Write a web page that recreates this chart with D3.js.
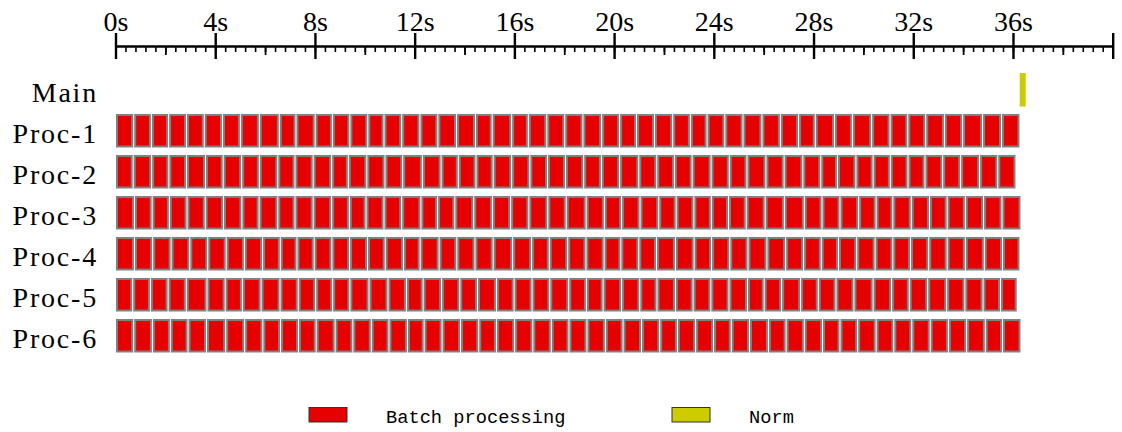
<!DOCTYPE html>
<html>
<head>
<meta charset="utf-8">
<script src="https://cdn.jsdelivr.net/npm/d3@7/dist/d3.min.js"></script>
<style>
  html, body { margin: 0; padding: 0; background: #fff; }
  svg { display: block; }
</style>
</head>
<body>
<svg id="chart" width="1122" height="432"></svg>
<script>
// Timeline rows, top to bottom
const rows = ["Main", "Proc-1", "Proc-2", "Proc-3", "Proc-4", "Proc-5", "Proc-6"];

// Labelled time ticks (seconds)
const tickLabels = [0, 4, 8, 12, 16, 20, 24, 28, 32, 36];
const timeDomain = [0, 40];

// Batch processing durations per worker (seconds, back-to-back from t = 0)
const proc1 = [0.73,0.71,0.69,0.72,0.71,0.73,0.72,0.76,0.80,0.67,0.77,0.69,0.70,0.72,0.65,0.71,0.73,0.72,0.75,0.76,
               0.67,0.78,0.67,0.74,0.72,0.73,0.75,0.72,0.68,0.72,0.73,0.71,0.67,0.71,0.73,0.76,0.74,0.73,0.67,0.77,
               0.72,0.77,0.74,0.71,0.72,0.75,0.73,0.80,0.76,0.74];
const proc2 = [0.71,0.74,0.69,0.71,0.76,0.71,0.74,0.71,0.74,0.69,0.73,0.74,0.67,0.74,0.73,0.71,0.79,0.75,0.69,0.71,
               0.69,0.74,0.73,0.71,0.72,0.73,0.71,0.73,0.77,0.72,0.71,0.71,0.76,0.73,0.71,0.76,0.73,0.75,0.72,0.67,
               0.74,0.69,0.69,0.71,0.68,0.71,0.72,0.76,0.73,0.73];
const proc3 = [0.76,0.71,0.69,0.71,0.73,0.73,0.74,0.69,0.75,0.69,0.73,0.74,0.71,0.67,0.72,0.71,0.77,0.67,0.69,0.76,
               0.75,0.73,0.73,0.76,0.74,0.80,0.73,0.69,0.74,0.75,0.70,0.71,0.70,0.69,0.71,0.76,0.77,0.80,0.71,0.72,
               0.75,0.70,0.67,0.74,0.73,0.71,0.73,0.73,0.74,0.76];
const proc4 = [0.76,0.73,0.74,0.75,0.72,0.74,0.73,0.73,0.71,0.67,0.69,0.71,0.71,0.72,0.71,0.73,0.67,0.76,0.71,0.73,
               0.73,0.78,0.76,0.71,0.74,0.73,0.73,0.67,0.72,0.71,0.76,0.75,0.70,0.73,0.73,0.76,0.75,0.72,0.71,0.69,
               0.73,0.74,0.71,0.71,0.73,0.74,0.73,0.76,0.73,0.70];
const proc5 = [0.69,0.71,0.71,0.73,0.83,0.73,0.69,0.75,0.76,0.73,0.70,0.68,0.69,0.77,0.76,0.74,0.67,0.74,0.73,0.71,
               0.76,0.71,0.72,0.71,0.76,0.71,0.67,0.74,0.73,0.69,0.74,0.71,0.71,0.73,0.74,0.67,0.70,0.76,0.71,0.71,
               0.72,0.77,0.74,0.71,0.74,0.76,0.73,0.73,0.70,0.67];
const proc6 = [0.73,0.75,0.72,0.71,0.74,0.77,0.76,0.73,0.71,0.72,0.71,0.76,0.71,0.74,0.71,0.74,0.67,0.72,0.74,0.73,
               0.71,0.73,0.73,0.74,0.71,0.72,0.74,0.71,0.74,0.73,0.71,0.73,0.72,0.71,0.73,0.76,0.71,0.73,0.73,0.70,
               0.71,0.74,0.71,0.72,0.74,0.73,0.73,0.75,0.69,0.74];

// Norm step on the main thread: [start, duration] in seconds
const normStart = 36.27;
const normDuration = 0.24;

// Legend entries
const legendNames = ["Batch processing", "Norm"];
const legendColors = ["#e60000", "#cccc00"];

const svg = d3.select("#chart");
const serif = "'Liberation Serif', 'Times New Roman', serif";
const mono = "'Liberation Mono', 'DejaVu Sans Mono', monospace";

const x = d3.scaleLinear().domain(timeDomain).range([115.5, 1112.7]);
const y = d3.scaleBand().domain(rows).range([73, 352.5]).paddingInner(0.183).paddingOuter(0);

// ---- time axis ----
const axisY = 46.5;
const axisG = svg.append("g").attr("transform", `translate(0,${axisY})`);

// minor ticks every 0.4 s
const minorTicks = d3.range(0, 100 + 1).map(i => +(i * 0.4).toFixed(2));
axisG.append("g")
  .call(d3.axisBottom(x).tickValues(minorTicks).tickSize(5.5).tickFormat(""))
  .call(g => g.select(".domain").remove())
  .call(g => g.selectAll("line").attr("stroke", "#000").attr("stroke-width", 1.6));

// medium ticks every 2 s
const midTicks = d3.range(2, 40, 4);
axisG.append("g")
  .call(d3.axisBottom(x).tickValues(midTicks).tickSize(8.5).tickFormat(""))
  .call(g => g.select(".domain").remove())
  .call(g => g.selectAll("line").attr("stroke", "#000").attr("stroke-width", 1.8));

// major ticks every 4 s, labelled up to 36 s
const majorTicks = d3.range(0, 41, 4);
axisG.append("g")
  .call(d3.axisTop(x).tickValues(majorTicks).tickSizeOuter(0)
        .tickFormat(d => tickLabels.includes(d) ? d + "s" : ""))
  .call(g => g.select(".domain")
        .attr("d", `M${x(timeDomain[0])},0H${x(timeDomain[1])}`)
        .attr("stroke", "#000").attr("stroke-width", 2.4))
  .call(g => g.selectAll(".tick line")
        .attr("y1", -13.5).attr("y2", 12.5)
        .attr("stroke", "#000").attr("stroke-width", 2.4))
  .call(g => g.selectAll(".tick text")
        .attr("y", -16).attr("dy", 0)
        .attr("font-family", serif).attr("font-size", 28)
        .attr("fill", "#000"));

// ---- row labels ----
svg.append("g").selectAll("text")
  .data(rows)
  .join("text")
  .attr("x", 98)
  .attr("y", d => y(d) + y.bandwidth() / 2 + 12)
  .attr("text-anchor", "end")
  .attr("font-family", serif)
  .attr("font-size", 28)
  .attr("letter-spacing", 1.8)
  .attr("fill", "#000")
  .text(d => d);

// ---- batch blocks ----
const procSeries = [proc1, proc2, proc3, proc4, proc5, proc6];
const blocks = [];
procSeries.forEach((durs, i) => {
  let t = 0;
  durs.forEach(d => {
    blocks.push({ row: rows[i + 1], start: t, end: t + d });
    t += d;
  });
});

svg.append("g").selectAll("rect")
  .data(blocks)
  .join("rect")
  .attr("x", d => x(d.start) + 1.5)
  .attr("y", d => y(d.row) + 1)
  .attr("width", d => Math.max(0, x(d.end) - x(d.start) - 3))
  .attr("height", y.bandwidth() - 2)
  .attr("fill", legendColors[0])
  .attr("stroke", "#808080")
  .attr("stroke-width", 2);

// ---- norm step on main ----
svg.append("rect")
  .attr("x", x(normStart))
  .attr("y", y("Main"))
  .attr("width", x(normStart + normDuration) - x(normStart))
  .attr("height", y.bandwidth())
  .attr("fill", legendColors[1]);

// ---- legend ----
const legendX = [309, 672];
const legend = svg.append("g");
legendNames.forEach((name, i) => {
  legend.append("rect")
    .attr("x", legendX[i]).attr("y", 407.5)
    .attr("width", 38).attr("height", 14.5)
    .attr("fill", legendColors[i])
    .attr("stroke", "#333").attr("stroke-width", 1);
  legend.append("text")
    .attr("x", legendX[i] + 77).attr("y", 423)
    .attr("font-family", mono).attr("font-size", 18.7)
    .attr("fill", "#000")
    .text(name);
});
</script>
</body>
</html>
